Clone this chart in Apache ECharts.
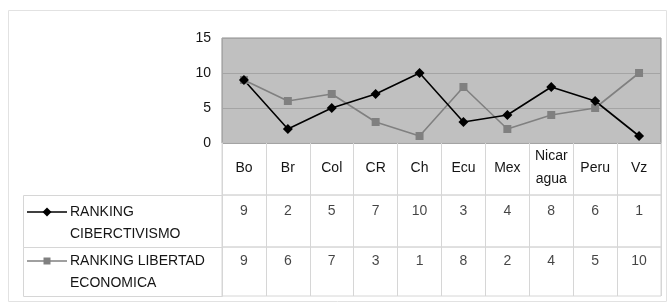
<!DOCTYPE html>
<html>
<head>
<meta charset="utf-8">
<script src="https://cdn.jsdelivr.net/npm/echarts@6/dist/echarts.min.js"></script>
<style>
  html, body { margin: 0; padding: 0; background: #fff; }
  #chart { width: 668px; height: 304px; }
</style>
</head>
<body>
<div id="chart"></div>
<script>
var countries = ['Bo', 'Br', 'Col', 'CR', 'Ch', 'Ecu', 'Mex', 'Nicar\nagua', 'Peru', 'Vz'];
var cyberNames = ['RANKING', 'CIBERCTIVISMO'];
var freedomNames = ['RANKING LIBERTAD', 'ECONOMICA'];
var cyberRank = [9, 2, 5, 7, 10, 3, 4, 8, 6, 1];
var freedomRank = [9, 6, 7, 3, 1, 8, 2, 4, 5, 10];
var yTicks = [0, 15, 5];

var textColor = '#151515';
var font = 'Liberation Sans, Arial, sans-serif';
var fontSize = 14;
var tableLine = '#d6d6d6';

var chart = echarts.init(document.getElementById('chart'));

// plot + the three table rows, all sharing the same x columns
var rows = [
  { top: 38, height: 105 },
  { top: 143, height: 52 },
  { top: 195, height: 52 },
  { top: 247, height: 49 }
];

var grids = rows.map(function (r, i) {
  return {
    left: 222, width: 439, top: r.top, height: r.height,
    show: true,
    backgroundColor: i === 0 ? '#c0c0c0' : 'transparent',
    borderColor: i === 0 ? '#8c8c8c' : tableLine,
    borderWidth: 1
  };
});

var xAxes = rows.map(function (r, i) {
  return {
    type: 'category', gridIndex: i, data: countries,
    boundaryGap: true,
    axisLine: { show: false },
    axisTick: { show: false },
    axisLabel: {
      show: i === 0, margin: 25, verticalAlign: 'middle', lineHeight: 23,
      color: textColor, fontFamily: font, fontSize: fontSize
    },
    splitLine: { show: i > 0, lineStyle: { color: tableLine, width: 1 } }
  };
});

var yAxes = rows.map(function (r, i) {
  if (i === 0) {
    return {
      type: 'value', gridIndex: 0, min: yTicks[0], max: yTicks[1], interval: yTicks[2],
      axisLine: { show: false }, axisTick: { show: false },
      axisLabel: { margin: 11, color: textColor, fontFamily: font, fontSize: fontSize },
      splitLine: { lineStyle: { color: '#a4a4a4', width: 1 } }
    };
  }
  return { type: 'category', gridIndex: i, data: ['row'], show: false };
});

function tableSeries(values, idx) {
  return {
    type: 'scatter', xAxisIndex: idx, yAxisIndex: idx,
    symbolSize: 0, silent: true,
    data: values.map(function (v, i) { return [i, 0, v]; }),
    label: {
      show: true, position: 'inside', offset: [0, -10],
      formatter: function (p) { return p.value[2]; },
      color: textColor, fontFamily: font, fontSize: fontSize
    }
  };
}

function legendKey(y, names, color, symbol) {
  var children = [
    { type: 'line', shape: { x1: 27, y1: y, x2: 67, y2: y }, style: { stroke: color, lineWidth: 1.5 } },
    { type: 'text', x: 70, y: y - 11,
      style: { text: names.join('\n'), fill: textColor, font: fontSize + 'px ' + font, lineHeight: 22, verticalAlign: 'top' } }
  ];
  if (symbol === 'diamond') {
    children.push({ type: 'polygon', shape: { points: [[47, y - 4.5], [51.5, y], [47, y + 4.5], [42.5, y]] }, style: { fill: color } });
  } else {
    children.push({ type: 'rect', shape: { x: 43.5, y: y - 3.5, width: 7, height: 7 }, style: { fill: color } });
  }
  return { type: 'group', children: children };
}

chart.setOption({
  animation: false,
  grid: grids,
  xAxis: xAxes,
  yAxis: yAxes,
  graphic: [
    { type: 'rect', shape: { x: 8.5, y: 10.5, width: 658, height: 291 }, style: { fill: 'none', stroke: '#e2e2e2', lineWidth: 1 } },
    { type: 'rect', shape: { x: 23.5, y: 195.5, width: 199, height: 52 }, style: { fill: 'none', stroke: tableLine, lineWidth: 1 } },
    { type: 'rect', shape: { x: 23.5, y: 247.5, width: 199, height: 49 }, style: { fill: 'none', stroke: tableLine, lineWidth: 1 } },
    legendKey(212, cyberNames, '#000', 'diamond'),
    legendKey(261, freedomNames, '#808080', 'rect')
  ],
  series: [
    {
      name: freedomNames.join(' '), type: 'line', data: freedomRank,
      symbol: 'rect', symbolSize: 8,
      lineStyle: { color: '#808080', width: 1.6 },
      itemStyle: { color: '#808080' }
    },
    {
      name: cyberNames.join(' '), type: 'line', data: cyberRank,
      symbol: 'diamond', symbolSize: 10,
      lineStyle: { color: '#000', width: 1.6 },
      itemStyle: { color: '#000' }
    },
    tableSeries(cyberRank, 2),
    tableSeries(freedomRank, 3)
  ]
});
</script>
</body>
</html>
